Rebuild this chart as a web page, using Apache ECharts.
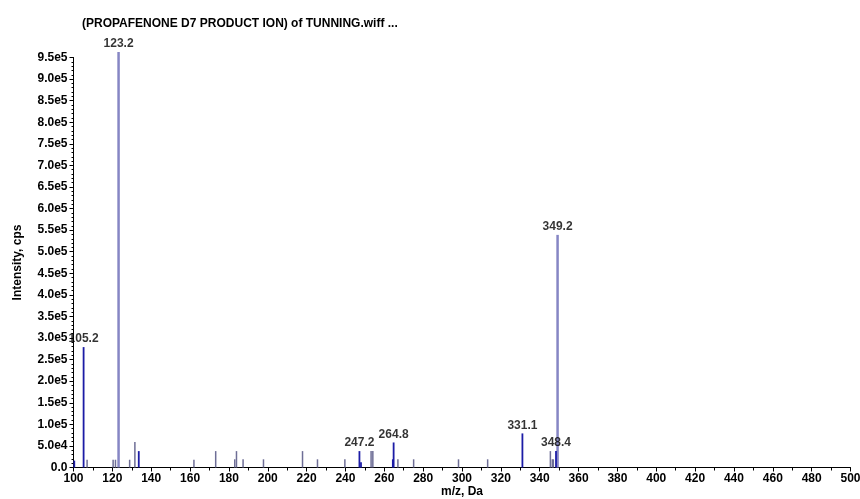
<!DOCTYPE html>
<html>
<head>
<meta charset="utf-8">
<script src="https://cdn.jsdelivr.net/npm/echarts@6/dist/echarts.min.js"></script>
<style>
  html, body { margin: 0; padding: 0; background: #fff; }
  #chart { width: 860px; height: 499px; }
</style>
</head>
<body>
<div id="chart"></div>
<script>
// Product-ion spectrum, stick representation
const titleText = '(PROPAFENONE D7 PRODUCT ION) of TUNNING.wiff ...';
const xAxisName = 'm/z, Da';
const yAxisName = 'Intensity, cps';

const mzMin = 100, mzMax = 500, mzStep = 20;
const intMin = 0, intMax = 950000, intStep = 50000;

// minor fragments (grey sticks)
const greyMz = [107.0, 120.4, 121.6, 128.9, 131.6, 162.0, 173.2, 183.0, 183.9, 187.3,
                197.8, 217.9, 225.6, 239.7, 253.2, 254.1, 267.0, 275.1, 298.2, 313.2,
                345.5, 346.5, 347.0];
const greyIntensity = [18000, 18000, 18000, 18000, 59000, 18000, 38000, 19000, 38000, 19000,
                       19000, 38000, 19000, 19000, 38000, 38000, 19000, 19000, 19000, 19000,
                       38000, 19000, 19000];

// centroided fragments (blue sticks)
const blueMz = [100.4, 105.2, 133.6, 247.2, 248.0, 264.4, 264.8, 331.1, 348.4];
const blueIntensity = [16000, 279000, 38000, 38000, 12000, 19000, 58000, 79000, 38000];

// dominant ions
const majorMz = [123.2, 349.2];
const majorIntensity = [963000, 539000];

// annotated peaks
const labelMz = [105.2, 123.2, 247.2, 264.8, 331.1, 348.4, 349.2];

const allMz = greyMz.concat(blueMz, majorMz);
const allIntensity = greyIntensity.concat(blueIntensity, majorIntensity);
const labelPoints = labelMz.map(m => [m, allIntensity[allMz.indexOf(m)]]);

function stickSeries(name, xs, ys, color, width) {
  return {
    type: 'custom',
    name: name,
    clip: false,
    data: xs.map((x, i) => [x, ys[i]]),
    encode: { x: 0, y: 1 },
    renderItem: function (params, api) {
      const base = api.coord([api.value(0), 0]);
      const top = api.coord([api.value(0), api.value(1)]);
      return {
        type: 'line',
        shape: { x1: base[0], y1: base[1], x2: top[0], y2: top[1] },
        style: { stroke: color, lineWidth: width }
      };
    }
  };
}

const fontFamily = 'Arial, "Liberation Sans", sans-serif';

const chart = echarts.init(document.getElementById('chart'), null, { renderer: 'canvas' });
chart.setOption({
  animation: false,
  backgroundColor: '#ffffff',
  title: {
    text: titleText,
    left: 77,
    top: 13,
    textStyle: { fontFamily: fontFamily, fontSize: 12, fontWeight: 'bold', color: '#000' }
  },
  grid: {
    left: 73.5, right: 9.5, top: 57.5, bottom: 31.5,
    containLabel: false,
    outerBoundsMode: 'none'
  },
  xAxis: {
    type: 'value',
    min: mzMin, max: mzMax, interval: mzStep,
    name: xAxisName,
    nameLocation: 'middle',
    nameGap: 18,
    nameMoveOverlap: false,
    nameTextStyle: { fontFamily: fontFamily, fontSize: 12, fontWeight: 'bold', color: '#000', verticalAlign: 'top' },
    axisLine: { show: true, onZero: false, lineStyle: { color: '#000', width: 1 } },
    axisTick: { show: true, length: 4, lineStyle: { color: '#000' } },
    minorTick: { show: true, splitNumber: 2, length: 3, lineStyle: { color: '#000' } },
    axisLabel: { margin: 5, fontFamily: fontFamily, fontSize: 12, fontWeight: 'bold', color: '#000' },
    splitLine: { show: false }
  },
  yAxis: {
    type: 'value',
    min: intMin, max: intMax, interval: intStep,
    name: yAxisName,
    nameLocation: 'middle',
    nameGap: 50,
    nameMoveOverlap: false,
    nameTextStyle: { fontFamily: fontFamily, fontSize: 12, fontWeight: 'bold', color: '#000' },
    axisLine: { show: true, lineStyle: { color: '#000', width: 1 } },
    axisTick: { show: true, length: 4, lineStyle: { color: '#000' } },
    minorTick: { show: true, splitNumber: 5, length: 2, lineStyle: { color: '#000' } },
    axisLabel: {
      margin: 6,
      fontFamily: fontFamily, fontSize: 12, fontWeight: 'bold', color: '#000',
      formatter: v => v === 0 ? '0.0' : v.toExponential(1).replace('e+', 'e')
    },
    splitLine: { show: false }
  },
  series: [
    stickSeries('minor', greyMz, greyIntensity, '#6e6e96', 1.5),
    stickSeries('major', majorMz, majorIntensity, '#8686c4', 2.5),
    stickSeries('centroid', blueMz, blueIntensity, '#1c1ca6', 1.8),
    {
      type: 'scatter',
      name: 'labels',
      clip: false,
      symbolSize: 0,
      data: labelPoints,
      label: {
        show: true,
        position: 'top',
        distance: 2,
        formatter: p => p.value[0].toFixed(1),
        fontFamily: fontFamily, fontSize: 12, fontWeight: 'bold', color: '#000'
      },
      z: 5
    }
  ]
});
</script>
</body>
</html>
